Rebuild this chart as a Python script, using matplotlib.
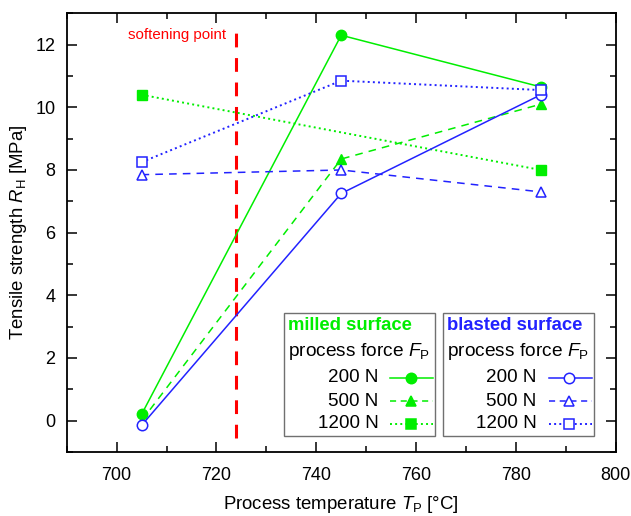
import matplotlib
matplotlib.use("Agg")
import matplotlib.pyplot as plt
from matplotlib.lines import Line2D
from matplotlib.patches import Rectangle
from matplotlib.ticker import MultipleLocator

plt.rcParams['font.family'] = ['Liberation Sans', 'DejaVu Sans']
plt.rcParams['mathtext.fontset'] = 'custom'
plt.rcParams['mathtext.rm'] = 'Liberation Sans'
plt.rcParams['mathtext.it'] = 'Liberation Sans:italic'

# ---- data ----
temps = [705, 745, 785]
milled_200 = [0.2, 12.3, 10.65]
milled_500 = [0.0, 8.35, 10.1]
milled_1200_t = [705, 785]
milled_1200 = [10.4, 8.0]
blasted_200 = [-0.15, 7.25, 10.4]
blasted_500 = [7.85, 8.0, 7.3]
blasted_1200 = [8.25, 10.85, 10.55]
softening_T = 724
force_labels = ['200 N', '500 N', '1200 N']

GREEN = '#00ee00'
BLUE = '#2222ff'
RED = '#ff0000'

fig = plt.figure(figsize=(6.31, 5.16), dpi=100)
ax = fig.add_axes([66.7/631, 1-452/516, 549/631, 438.7/516])

lw = 1.1
ms = 7.5
ax.plot(temps, milled_200, '-', color=GREEN, lw=lw, marker='o', ms=ms, zorder=3)
ax.plot(temps, milled_500, '--', color=GREEN, lw=lw, marker='^', ms=ms, dashes=(5, 4), zorder=3)
ax.plot(milled_1200_t, milled_1200, ':', color=GREEN, lw=lw + 0.3, marker='s', ms=ms - 0.5, zorder=3)
ax.plot(temps, blasted_200, '-', color=BLUE, lw=lw, marker='o', ms=ms, mfc='white', mew=1.1, zorder=4)
ax.plot(temps, blasted_500, '--', color=BLUE, lw=lw, marker='^', ms=ms, mfc='white', mew=1.1, dashes=(5, 4), zorder=4)
ax.plot(temps, blasted_1200, ':', color=BLUE, lw=lw + 0.3, marker='s', ms=ms - 0.5, mfc='white', mew=1.1, zorder=4)

ax.plot([softening_T, softening_T], [-0.55, 12.6], color=RED, lw=2.2, dashes=(4.5, 3.5), zorder=2)
ax.text(softening_T - 2.0, 12.3, 'softening point', color=RED, fontsize=10.8, ha='right', va='center')

ax.set_xlim(690, 800)
ax.set_ylim(-1, 13)
ax.xaxis.set_major_locator(MultipleLocator(20))
ax.xaxis.set_minor_locator(MultipleLocator(10))
ax.yaxis.set_major_locator(MultipleLocator(2))
ax.yaxis.set_minor_locator(MultipleLocator(1))
ax.tick_params(which='both', direction='in', top=True, right=True, labelsize=13, width=1.1)
ax.tick_params(which='major', length=7)
ax.tick_params(axis='y', which='major', pad=8)
ax.tick_params(axis='x', which='major', pad=11)
ax.tick_params(which='minor', length=4)
for s in ax.spines.values():
    s.set_linewidth(1.3)

ax.set_xlabel('Process temperature $\\mathit{T}_\\mathrm{P}$ [°C]', fontsize=13.4, labelpad=7)
ax.set_ylabel('Tensile strength $\\mathit{R}_\\mathrm{H}$ [MPa]', fontsize=13.4, labelpad=5)

# ---- legend boxes (axes fraction) ----
W = 549.0
H = 438.7
def fx(px):
    return (px - 66.7) / W
def fy(py):
    return (452 - py) / H

def legend_box(x0, x1, title, color, styles, mfc_list, label_right, h0, h1, hm):
    ax.add_patch(Rectangle((fx(x0), fy(436)), fx(x1) - fx(x0), fy(312.5) - fy(436),
                           transform=ax.transAxes, fill=True, fc='white', ec='#707070', lw=1.0, zorder=6))
    ax.text(fx(x0 + 4), fy(326), title, transform=ax.transAxes, color=color, fontsize=13.3,
            fontweight='bold', ha='left', va='center', zorder=7)
    ax.text(fx(x0 + 4), fy(351), 'process force $\\mathit{F}_\\mathrm{P}$', transform=ax.transAxes,
            color='black', fontsize=13.8, ha='left', va='center', zorder=7)
    ys = [378, 401, 424]
    for lab, y, (ls, mk, msz), mfc in zip(force_labels, ys, styles, mfc_list):
        ax.text(fx(label_right), fy(y), lab, transform=ax.transAxes, fontsize=13.6,
                ha='right', va='center', zorder=7)
        kw = {}
        if ls == '--':
            kw['dashes'] = (4, 3)
        ax.add_line(Line2D([fx(h0), fx(h1)], [fy(y), fy(y)], transform=ax.transAxes,
                           ls=ls, color=color, lw=lw + (0.3 if ls == ':' else 0), zorder=7, **kw))
        ax.add_line(Line2D([fx(hm)], [fy(y)], transform=ax.transAxes, ls='none', marker=mk,
                           ms=msz, color=color, mfc=mfc, mew=1.1, zorder=8))

styles = [('-', 'o', ms), ('--', '^', ms), (':', 's', ms - 0.5)]
legend_box(283.5, 435, 'milled surface', GREEN, styles, [GREEN] * 3, 378.4, 389.5, 433, 411.4)
legend_box(442.7, 594, 'blasted surface', BLUE, styles, ['white'] * 3, 536.7, 548.8, 591.5, 568.6)

fig.savefig('out.png', dpi=100)
